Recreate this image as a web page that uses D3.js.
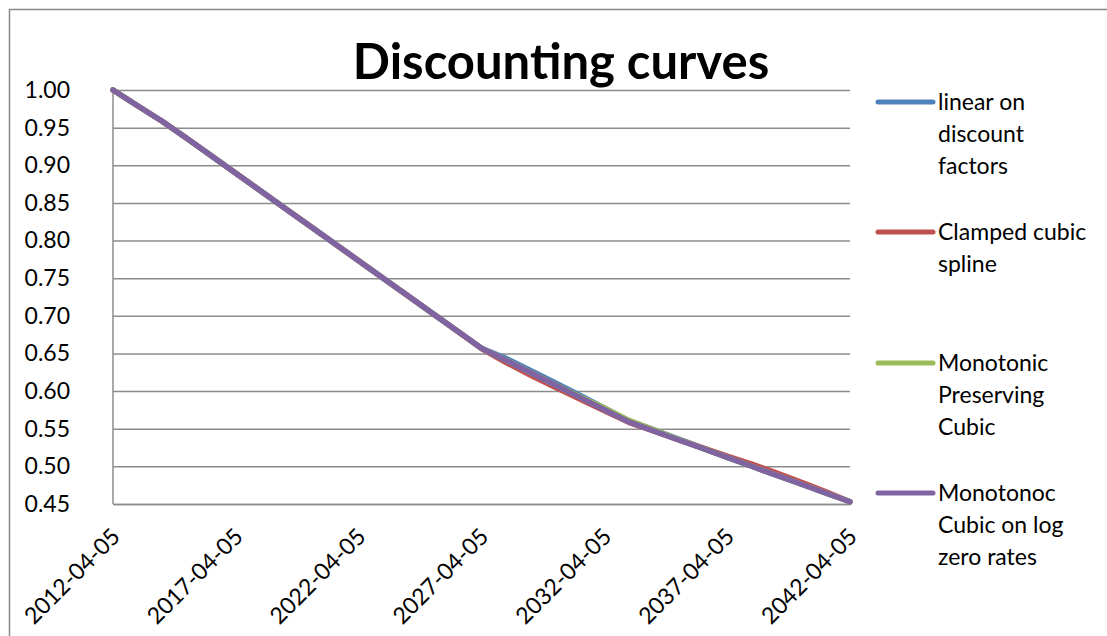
<!DOCTYPE html>
<html>
<head>
<meta charset="utf-8">
<script src="https://cdn.jsdelivr.net/npm/d3@7"></script>
<style>
  body { margin: 0; background: #fff; }
  svg { display: block; font-family: Lato, "Open Sans", sans-serif; }
</style>
</head>
<body>
<div id="chart"></div>
<script>
// data, one point per year on 04-05
const dates = ["2012-04-05","2013-04-05","2014-04-05","2015-04-05","2016-04-05","2017-04-05",
  "2018-04-05","2019-04-05","2020-04-05","2021-04-05","2022-04-05","2023-04-05","2024-04-05",
  "2025-04-05","2026-04-05","2027-04-05","2028-04-05","2029-04-05","2030-04-05","2031-04-05",
  "2032-04-05","2033-04-05","2034-04-05","2035-04-05","2036-04-05","2037-04-05","2038-04-05",
  "2039-04-05","2040-04-05","2041-04-05","2042-04-05"];

const linearDF = [1.000,0.979,0.9585,0.936,0.9126,0.8894,0.8661,0.8429,0.8197,0.7964,0.7732,
  0.7499,0.7267,0.7035,0.6802,0.657,0.6435,0.6275,0.611,0.5945,0.5775,0.5605,0.549,0.5365,
  0.5245,0.512,0.5001,0.4883,0.4766,0.4648,0.453];
const clampedSpline = [1.000,0.979,0.9585,0.936,0.9126,0.8894,0.8661,0.8429,0.8197,0.7964,0.7732,
  0.7499,0.7267,0.7035,0.6802,0.6565,0.638,0.621,0.605,0.5895,0.574,0.5585,0.547,0.5355,
  0.5245,0.5135,0.503,0.4913,0.479,0.4665,0.453];
const monoCubic = [1.000,0.979,0.9585,0.936,0.9126,0.8894,0.8661,0.8429,0.8197,0.7964,0.7732,
  0.7499,0.7267,0.7035,0.6802,0.657,0.641,0.6248,0.6085,0.5925,0.5775,0.561,0.549,0.536,
  0.5237,0.5119,0.5001,0.4883,0.4766,0.4648,0.453];
const monoLogZero = [1.000,0.979,0.9585,0.9359,0.9126,0.8894,0.8661,0.8429,0.8197,0.7964,0.7732,
  0.7499,0.7267,0.7035,0.6802,0.657,0.6407,0.6243,0.608,0.5917,0.5753,0.559,0.5472,0.5354,
  0.5237,0.5119,0.5001,0.4883,0.4766,0.4648,0.453];

const seriesNames = [["linear on", "discount", "factors"], ["Clamped cubic", "spline"],
  ["Monotonic", "Preserving", "Cubic"], ["Monotonoc", "Cubic on log", "zero rates"]];
const seriesColors = ["#4F81BD", "#C0504D", "#9BBB59", "#8064A2"];
const yTicks = [1.00,0.95,0.90,0.85,0.80,0.75,0.70,0.65,0.60,0.55,0.50,0.45];
const xTicks = ["2012-04-05","2017-04-05","2022-04-05","2027-04-05","2032-04-05","2037-04-05","2042-04-05"];

const W = 1107, H = 636;
const plot = {left: 113, right: 850, top: 90, bottom: 504};
const font = "Lato, 'Open Sans', sans-serif";
const parse = d3.utcParse("%Y-%m-%d");

const svg = d3.select("#chart").append("svg")
  .attr("width", W).attr("height", H);

// chart border (runs off the right and bottom)
svg.append("rect")
  .attr("x", 9.5).attr("y", 9.5)
  .attr("width", 1130).attr("height", 660)
  .attr("fill", "none").attr("stroke", "#888").attr("stroke-width", 1.5);

/// SCALES
let x = d3.scaleUtc()
  .domain([parse(dates[0]), parse(dates[dates.length - 1])])
  .range([plot.left, plot.right]);
let y = d3.scaleLinear()
  .domain([0.45, 1.00])
  .range([plot.bottom, plot.top]);

/// GRID + Y AXIS
const yAxis = svg.append("g")
  .attr("transform", `translate(${plot.left},0)`)
  .call(d3.axisLeft(y).tickValues(yTicks).tickFormat(d3.format(".2f"))
    .tickSize(-(plot.right - plot.left)).tickPadding(43))
  .attr("font-family", font).attr("font-size", 23);
yAxis.select(".domain").remove();
yAxis.selectAll(".tick line").attr("stroke", "#8c8c8c").attr("stroke-width", 1.5);
yAxis.selectAll("text").attr("fill", "#000");

// left axis line
svg.append("line")
  .attr("x1", plot.left).attr("x2", plot.left)
  .attr("y1", plot.top).attr("y2", plot.bottom)
  .attr("stroke", "#8c8c8c").attr("stroke-width", 1.5);

/// X AXIS
const xAxis = svg.append("g")
  .attr("transform", `translate(0,${plot.bottom})`)
  .call(d3.axisBottom(x).tickValues(xTicks.map(parse)).tickFormat(d3.utcFormat("%Y-%m-%d")).tickSize(0))
  .attr("font-family", font).attr("font-size", 23);
xAxis.select(".domain").attr("stroke", "#8c8c8c").attr("stroke-width", 1.5);
xAxis.selectAll("text")
  .attr("fill", "#000")
  .attr("text-anchor", "end")
  .attr("x", 0).attr("y", 0).attr("dy", 0)
  .attr("transform", "translate(8,34) rotate(-45)");

/// LINES
const allSeries = [linearDF, clampedSpline, monoCubic, monoLogZero];
const line = d3.line()
  .x((d, i) => x(parse(dates[i])))
  .y(d => y(d));

svg.append("g").selectAll("path")
  .data(allSeries)
  .join("path")
  .attr("d", d => line(d))
  .attr("fill", "none")
  .attr("stroke", (d, i) => seriesColors[i])
  .attr("stroke-width", 5.5)
  .attr("stroke-linejoin", "round")
  .attr("stroke-linecap", "round");

/// TITLE
svg.append("text")
  .attr("x", 561).attr("y", 79)
  .attr("text-anchor", "middle")
  .style("font-size", "49px").style("font-weight", "bold")
  .text("Discounting curves");

/// LEGEND
const legendY = [102, 232, 363, 493];
const leg = svg.append("g").selectAll("g")
  .data(seriesNames)
  .join("g")
  .attr("transform", (d, i) => `translate(878,${legendY[i]})`);
leg.append("line")
  .attr("x1", 0).attr("x2", 55)
  .attr("stroke", (d, i) => seriesColors[i])
  .attr("stroke-width", 5).attr("stroke-linecap", "round");
leg.append("text")
  .style("font-size", "23px")
  .selectAll("tspan")
  .data(d => d)
  .join("tspan")
  .attr("x", 60)
  .attr("y", (d, i) => i * 32)
  .attr("dy", "0.36em")
  .text(d => d);
</script>
</body>
</html>
